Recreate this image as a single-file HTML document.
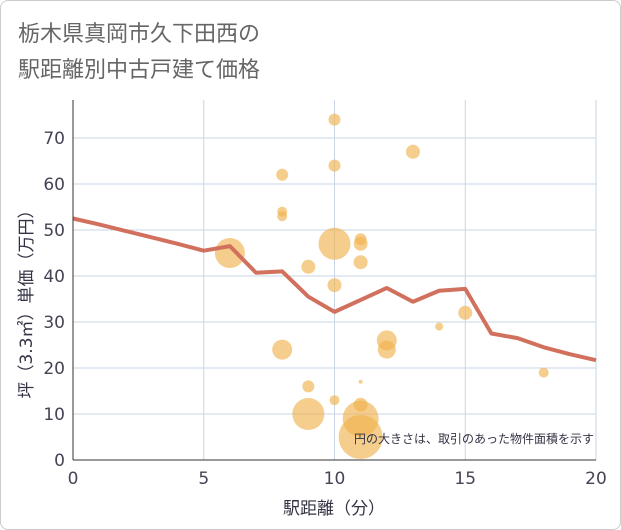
<!DOCTYPE html>
<html><head><meta charset="utf-8"><style>
body{margin:0;background:#fff;font-family:"DejaVu Sans","Noto Sans CJK JP",sans-serif}
.card{position:absolute;left:0;top:0;width:619px;height:528px;border:1px solid #ccc;border-radius:8px;background:#fff}
</style></head><body>
<div class="card"></div>
<svg id="c" width="621" height="530" style="position:absolute;left:0;top:0">
<text x="18" y="41" font-size="22" fill="#666" font-family="DejaVu Sans,Noto Sans CJK JP,sans-serif">栃木県真岡市久下田西の</text>
<text x="18" y="77" font-size="22" fill="#666" font-family="DejaVu Sans,Noto Sans CJK JP,sans-serif">駅距離別中古戸建て価格</text>
<g id="grid"></g><g id="bub"></g><g id="ln"></g><g id="ax"></g>
<text x="594" y="443" font-size="12" fill="#334" text-anchor="end" font-family="Liberation Sans,Noto Sans CJK JP,sans-serif">円の大きさは、取引のあった物件面積を示す</text>
<text x="334" y="514" font-size="17" fill="#334" text-anchor="middle" font-family="DejaVu Sans,Noto Sans CJK JP,sans-serif">駅距離（分）</text>
<text transform="translate(32,300) rotate(-90)" font-size="17" fill="#334" text-anchor="middle" font-family="DejaVu Sans,Noto Sans CJK JP,sans-serif">坪（3.3㎡）単価（万円）</text>
</svg>
<script>
const xTicks=[0,5,10,15,20];
const yTicks=[0,10,20,30,40,50,60,70];
const lineX=[0,1,2,3,4,5,6,7,8,9,10,11,12,13,14,15,16,17,18,19,20];
const lineY=[52.5,51.2,49.8,48.4,47,45.5,46.5,40.7,41,35.5,32.2,34.8,37.4,34.4,36.8,37.2,27.5,26.5,24.5,23,21.7];
const bubX=[6,8,8,8,8,9,9,9,10,10,10,10,10,11,11,11,11,11,11,11,12,12,13,14,15,18];
const bubY=[45,62,54,53,24,42,16,10,74,64,47,38,13,48,47,43,17,12,9,5,26,24,67,29,32,19];
const bubR=[15,6,5,5,10,7,6,16,6,6,16,7,5,6,7,7,2,7,18,22,10,9,7,4,7,5];
const L=73,R=596,T=100,B=460;
const sx=v=>L+(R-L)*v/20, sy=v=>B-(B-138)*v/70;
const NS="http://www.w3.org/2000/svg";
function mk(p,t,a){const e=document.createElementNS(NS,t);for(const k in a)e.setAttribute(k,a[k]);document.getElementById(p).appendChild(e);return e;}
xTicks.forEach(v=>{const g=mk('grid','line',{x1:sx(v),x2:sx(v),y1:T,y2:B,stroke:'#c8d6e6'});

const t=mk('ax','text',{x:sx(v),y:B+24,'font-size':17,fill:'#445','text-anchor':'middle'});t.textContent=v;
});
yTicks.forEach(v=>{const g=mk('grid','line',{x1:L,x2:R,y1:sy(v),y2:sy(v),stroke:'#c8d6e6'});

const t=mk('ax','text',{x:L-8,y:sy(v)+6,'font-size':17,fill:'#445','text-anchor':'end'});t.textContent=v;
});
const a1=mk('ax','line',{x1:L,x2:L,y1:T,y2:B,stroke:'#333'});
const a2=mk('ax','line',{x1:L,x2:R,y1:B,y2:B,stroke:'#333'});
bubX.forEach((x,i)=>{const c=mk('bub','circle',{cx:sx(x),cy:sy(bubY[i]),r:bubR[i],fill:'#f0b24e','fill-opacity':0.65});
});
const p=mk('ln','polyline',{points:lineX.map((x,i)=>sx(x)+','+sy(lineY[i])).join(' '),fill:'none',stroke:'#d2705e','stroke-width':4,'stroke-linejoin':'round'});

</script>
</body></html>
